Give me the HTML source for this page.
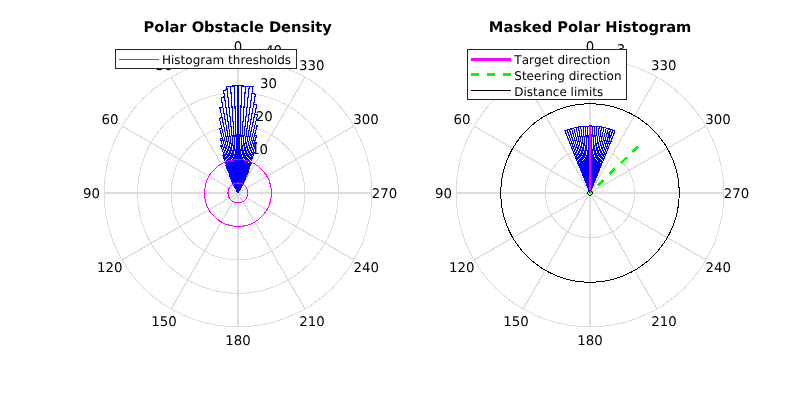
<!DOCTYPE html>
<html lang="en"><head><meta charset="utf-8"><title>VFH polar histograms</title>
<style>html,body{margin:0;padding:0;background:#fff;width:800px;height:400px;overflow:hidden}svg{display:block}text{font-family:"DejaVu Sans","Liberation Sans",sans-serif;font-kerning:none;text-rendering:geometricPrecision}.tk{font-size:13.33px;fill:#000}.ttl{font-size:14.67px;font-weight:bold;fill:#000;text-anchor:middle}.lg{font-size:12px;fill:#000}</style></head><body>
<svg width="800" height="400" viewBox="0 0 800 400">
<rect width="800" height="400" fill="#fff"/>
<g stroke="#dedede" stroke-width="1.4" fill="none" shape-rendering="crispEdges">
<line x1="238" y1="193" x2="238" y2="59.1"/>
<line x1="238" y1="193" x2="171.05" y2="77.04"/>
<line x1="238" y1="193" x2="122.04" y2="126.05"/>
<line x1="238" y1="193" x2="104.1" y2="193"/>
<line x1="238" y1="193" x2="122.04" y2="259.95"/>
<line x1="238" y1="193" x2="171.05" y2="308.96"/>
<line x1="238" y1="193" x2="238" y2="326.9"/>
<line x1="238" y1="193" x2="304.95" y2="308.96"/>
<line x1="238" y1="193" x2="353.96" y2="259.95"/>
<line x1="238" y1="193" x2="371.9" y2="193"/>
<line x1="238" y1="193" x2="353.96" y2="126.05"/>
<line x1="238" y1="193" x2="304.95" y2="77.04"/>
</g>
<g stroke="#dcdcdc" stroke-width="1" fill="none" shape-rendering="crispEdges">
<circle cx="238" cy="193" r="33.48"/>
<circle cx="238" cy="193" r="66.95"/>
<circle cx="238" cy="193" r="100.42"/>
<circle cx="238" cy="193" r="133.9"/>
</g>
<g class="tk" text-anchor="middle">
<text x="238" y="50.95">0</text>
<text x="164.15" y="70.04">30</text>
<text x="110.09" y="124.1">60</text>
<text x="91.4" y="197.95">90</text>
<text x="109.74" y="272">120</text>
<text x="163.95" y="326.21">150</text>
<text x="238" y="344.95">180</text>
<text x="312.05" y="326.21">210</text>
<text x="366.26" y="272">240</text>
<text x="384.6" y="197.95">270</text>
<text x="365.91" y="124.1">300</text>
<text x="311.85" y="70.04">330</text>
</g>
<g class="tk">
<text x="282.1" y="55.3" text-anchor="end">40</text>
<text x="276.9" y="87.9" text-anchor="end">30</text>
<text x="272.8" y="121" text-anchor="end">20</text>
<text x="268.1" y="154.1" text-anchor="end">10</text>
</g>
<path d="M238.01 193L241.36 187.2L241.15 187.09ZM238.01 193L245.87 178.22L245.35 177.96ZM238.01 193L248.28 171.94L247.54 171.59ZM238.01 193L251.63 162.42L250.55 161.96ZM238.01 193L254.31 152.65L252.89 152.11ZM238.01 193L256.33 142.67L254.56 142.06ZM238.01 193L256.63 135.69L254.62 135.08ZM238.01 193L257.39 125.43L255.02 124.79ZM238.01 193L257.45 115.05L254.71 114.42ZM238.01 193L256.8 104.59L253.7 103.99ZM238.01 193L255.45 94.1L251.99 93.55ZM238.01 193L252.92 86.92L249.21 86.47ZM238.01 193L249.21 86.47L245.48 86.14ZM238.01 193L245.48 86.14L241.75 85.95ZM238.01 193L241.75 85.95L238.01 85.88ZM238.01 193L238.01 85.88L234.27 85.95ZM238.01 193L234.27 85.95L230.54 86.14ZM238.01 193L230.54 86.14L226.81 86.47ZM238.01 193L227.16 89.8L223.57 90.24ZM238.01 193L224.5 96.87L221.15 97.4ZM238.01 193L222.9 107.29L219.91 107.87ZM238.01 193L222 117.69L219.38 118.29ZM238.01 193L221.81 128.04L219.56 128.64ZM238.01 193L222.32 138.3L220.42 138.88ZM238.01 193L222.49 145.25L220.84 145.82ZM238.01 193L224.27 155.25L222.96 155.76ZM238.01 193L226.72 165.07L225.76 165.48ZM238.01 193L229.84 174.65L229.21 174.95ZM238.01 193L232.14 180.97L231.72 181.18ZM238.01 193L236.44 190.04L236.34 190.1Z" fill="none" stroke="#0000ff" stroke-width="1.1" stroke-linejoin="miter" shape-rendering="crispEdges"/>
<g stroke="#ff00ff" stroke-width="1" fill="none" shape-rendering="crispEdges">
<circle cx="238" cy="193" r="10.04"/>
<circle cx="238" cy="193" r="33.48"/>
</g>
<rect x="115.5" y="49.5" width="181" height="19" fill="#fff" stroke="#262626" stroke-width="1" shape-rendering="crispEdges"/>
<line x1="119" y1="59.5" x2="159" y2="59.5" stroke="#ff00ff" stroke-width="1" shape-rendering="crispEdges"/>
<text class="lg" x="162" y="63.8">Histogram thresholds</text>
<text class="ttl" x="237.7" y="31.7">Polar Obstacle Density</text>
<g stroke="#dedede" stroke-width="1.4" fill="none" shape-rendering="crispEdges">
<line x1="590" y1="193" x2="590" y2="59.1"/>
<line x1="590" y1="193" x2="523.05" y2="77.04"/>
<line x1="590" y1="193" x2="474.04" y2="126.05"/>
<line x1="590" y1="193" x2="456.1" y2="193"/>
<line x1="590" y1="193" x2="474.04" y2="259.95"/>
<line x1="590" y1="193" x2="523.05" y2="308.96"/>
<line x1="590" y1="193" x2="590" y2="326.9"/>
<line x1="590" y1="193" x2="656.95" y2="308.96"/>
<line x1="590" y1="193" x2="705.96" y2="259.95"/>
<line x1="590" y1="193" x2="723.9" y2="193"/>
<line x1="590" y1="193" x2="705.96" y2="126.05"/>
<line x1="590" y1="193" x2="656.95" y2="77.04"/>
</g>
<g stroke="#dcdcdc" stroke-width="1" fill="none" shape-rendering="crispEdges">
<circle cx="590" cy="193" r="44.63"/>
<circle cx="590" cy="193" r="89.27"/>
<circle cx="590" cy="193" r="133.9"/>
</g>
<g class="tk" text-anchor="middle">
<text x="590" y="50.95">0</text>
<text x="516.15" y="70.04">30</text>
<text x="462.09" y="124.1">60</text>
<text x="443.4" y="197.95">90</text>
<text x="461.74" y="272">120</text>
<text x="515.95" y="326.21">150</text>
<text x="590" y="344.95">180</text>
<text x="664.05" y="326.21">210</text>
<text x="718.26" y="272">240</text>
<text x="736.6" y="197.95">270</text>
<text x="717.91" y="124.1">300</text>
<text x="663.85" y="70.04">330</text>
</g>
<g class="tk">
<text x="625.3" y="53.6" text-anchor="end">3</text>
<text x="620.6" y="97.6" text-anchor="end">2</text>
<text x="613.5" y="141.6" text-anchor="end">1</text>
</g>
<path d="M590.01 193L615.09 130.93L612.91 130.09ZM590.01 193L612.91 130.09L610.7 129.33ZM590.01 193L610.7 129.33L608.46 128.64ZM590.01 193L608.46 128.64L606.21 128.04ZM590.01 193L606.21 128.04L603.93 127.51ZM590.01 193L603.93 127.51L601.64 127.07ZM590.01 193L601.64 127.07L599.33 126.7ZM590.01 193L599.33 126.7L597.01 126.42ZM590.01 193L597.01 126.42L594.68 126.21ZM590.01 193L594.68 126.21L592.35 126.09ZM590.01 193L592.35 126.09L590.01 126.05ZM590.01 193L590.01 126.05L587.67 126.09ZM590.01 193L587.67 126.09L585.34 126.21ZM590.01 193L585.34 126.21L583.01 126.42ZM590.01 193L583.01 126.42L580.69 126.7ZM590.01 193L580.69 126.7L578.38 127.07ZM590.01 193L578.38 127.07L576.09 127.51ZM590.01 193L576.09 127.51L573.81 128.04ZM590.01 193L573.81 128.04L571.56 128.64ZM590.01 193L571.56 128.64L569.32 129.33ZM590.01 193L569.32 129.33L567.11 130.09ZM590.01 193L567.11 130.09L564.93 130.93Z" fill="none" stroke="#0000ff" stroke-width="1.1" stroke-linejoin="miter" shape-rendering="crispEdges"/>
<rect x="589" y="126" width="2" height="65" fill="#ff00ff" shape-rendering="crispEdges"/>
<rect x="589" y="125" width="3" height="1" fill="#0000ff" shape-rendering="crispEdges"/>
<line x1="638.09" y1="146.42" x2="590" y2="193" stroke="#00ff00" stroke-width="2.67" stroke-dasharray="8 8" shape-rendering="crispEdges"/>
<g stroke="#000" stroke-width="1" fill="none" shape-rendering="crispEdges">
<circle cx="590" cy="193" r="89.27"/>
<circle cx="590" cy="193" r="2.23"/>
</g>
<rect x="467.5" y="49.5" width="159" height="50" fill="#fff" stroke="#262626" stroke-width="1" shape-rendering="crispEdges"/>
<rect x="471" y="58" width="40" height="3" fill="#ff00ff" shape-rendering="crispEdges"/>
<line x1="471" y1="74.5" x2="511" y2="74.5" stroke="#00ff00" stroke-width="3" stroke-dasharray="8 8" shape-rendering="crispEdges"/>
<line x1="471" y1="90.5" x2="511" y2="90.5" stroke="#000" stroke-width="1" shape-rendering="crispEdges"/>
<text class="lg" x="514.3" y="63.8">Target direction</text>
<text class="lg" x="514.3" y="79.8">Steering direction</text>
<text class="lg" x="514.3" y="95.8">Distance limits</text>
<text class="ttl" x="590.1" y="31.7">Masked Polar Histogram</text>
</svg></body></html>
